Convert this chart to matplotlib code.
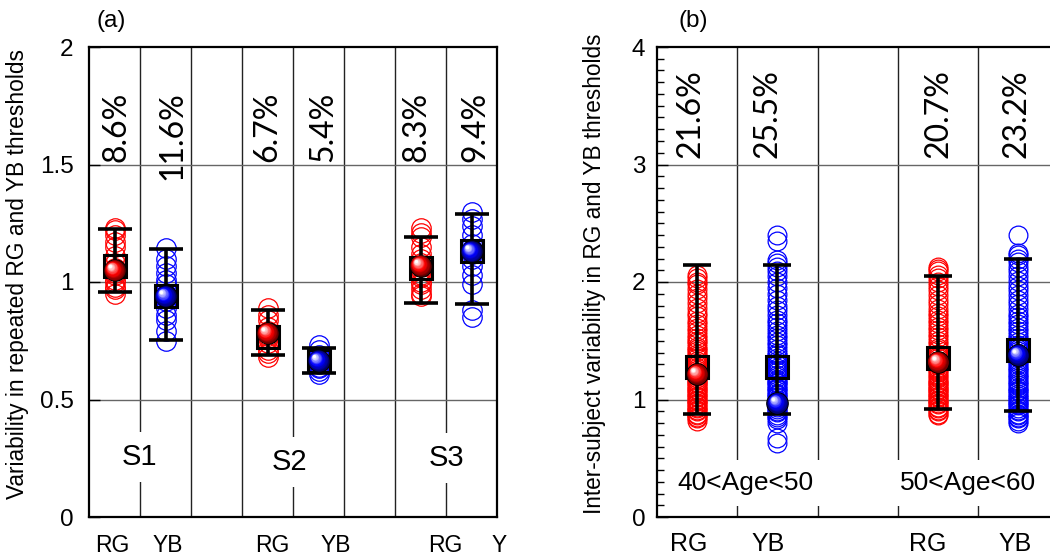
import numpy as np
import matplotlib
matplotlib.use("Agg")
import matplotlib.pyplot as plt
from matplotlib.transforms import offset_copy, blended_transform_factory
from matplotlib.colors import to_rgb

plt.rcParams['font.family'] = ['Liberation Sans', 'DejaVu Sans']

# ---- panel (a): repeated measures, 3 subjects ----
a_pos = [0.5, 1.5, 3.5, 4.5, 6.5, 7.5]
a_kind = ["RG", "YB", "RG", "YB", "RG", "YB"]
a_vals = [
    [0.95, 0.97, 0.98, 1.00, 1.01, 1.03, 1.04, 1.05, 1.06, 1.08, 1.11, 1.15, 1.17, 1.20, 1.22, 1.23],
    [0.75, 0.79, 0.84, 0.86, 0.89, 0.92, 0.93, 0.95, 0.99, 1.01, 1.04, 1.07, 1.10, 1.145],
    [0.68, 0.70, 0.71, 0.74, 0.76, 0.77, 0.79, 0.81, 0.84, 0.86, 0.89],
    [0.61, 0.62, 0.635, 0.64, 0.65, 0.66, 0.665, 0.68, 0.69, 0.71, 0.73],
    [0.94, 0.95, 0.97, 0.99, 1.00, 1.02, 1.03, 1.05, 1.08, 1.10, 1.12, 1.15, 1.19, 1.21, 1.23],
    [0.85, 0.88, 0.99, 1.03, 1.07, 1.10, 1.12, 1.14, 1.16, 1.20, 1.24, 1.27, 1.30],
]
a_mean = [1.07, 0.94, 0.766, 0.664, 1.06, 1.13]
a_ball = [1.05, 0.94, 0.783, 0.665, 1.07, 1.13]
a_lo = [0.957, 0.753, 0.689, 0.613, 0.91, 0.906]
a_hi = [1.226, 1.14, 0.881, 0.719, 1.19, 1.29]
a_pct = ["8.6%", "11.6%", "6.7%", "5.4%", "8.3%", "9.4%"]
a_pct_x = [0.53, 1.63, 3.49, 4.59, 6.43, 7.57]
a_subj = ["S1", "S2", "S3"]
a_subj_x = [0.98, 3.94, 7.0]
a_subj_y = [0.255, 0.235, 0.25]
a_xlab = ["RG", "YB", "RG", "YB", "RG", "Y"]
a_xlab_x = [0.45, 1.55, 3.59, 4.83, 6.98, 8.05]

# ---- panel (b): inter-subject, two age groups ----
b_pos = [0.5, 1.5, 3.5, 4.5]
b_kind = ["RG", "YB", "RG", "YB"]
b_vals = [
    [0.82, 0.84, 0.85, 0.87, 0.88, 0.90, 0.91, 0.93, 0.94, 0.96, 0.97, 0.99, 1.00, 1.02, 1.03,
     1.05, 1.06, 1.08, 1.09, 1.11, 1.12, 1.14, 1.15, 1.17, 1.18, 1.20, 1.21, 1.23, 1.25, 1.27,
     1.29, 1.31, 1.33, 1.35, 1.37, 1.39, 1.41, 1.43, 1.45, 1.48, 1.50, 1.52, 1.55, 1.58, 1.61,
     1.64, 1.67, 1.71, 1.74, 1.78, 1.82, 1.86, 1.90, 1.94, 1.98, 2.00, 2.03, 2.06],
    [0.63, 0.67, 0.80, 0.83, 0.85, 0.87, 0.89, 0.90, 0.92, 0.94, 0.95, 0.97, 0.99, 1.00, 1.02,
     1.04, 1.05, 1.07, 1.09, 1.10, 1.12, 1.14, 1.15, 1.17, 1.19, 1.21, 1.23, 1.25, 1.27, 1.29,
     1.31, 1.33, 1.35, 1.38, 1.40, 1.43, 1.46, 1.49, 1.52, 1.55, 1.58, 1.62, 1.65, 1.68, 1.72,
     1.76, 1.80, 1.85, 1.90, 1.95, 2.00, 2.05, 2.09, 2.13, 2.16, 2.19, 2.35, 2.40],
    [0.87, 0.88, 0.90, 0.91, 0.93, 0.94, 0.96, 0.97, 0.99, 1.00, 1.02, 1.03, 1.05, 1.06, 1.08,
     1.09, 1.11, 1.12, 1.14, 1.15, 1.17, 1.19, 1.21, 1.23, 1.25, 1.27, 1.29, 1.31, 1.33, 1.35,
     1.37, 1.39, 1.42, 1.44, 1.47, 1.50, 1.53, 1.56, 1.59, 1.62, 1.65, 1.68, 1.71, 1.74, 1.77,
     1.81, 1.85, 1.89, 1.93, 1.97, 2.00, 2.03, 2.06, 2.09, 2.11, 2.13],
    [0.80, 0.82, 0.84, 0.85, 0.87, 0.88, 0.90, 0.91, 0.93, 0.95, 0.96, 0.98, 1.00, 1.01, 1.03,
     1.05, 1.07, 1.08, 1.10, 1.12, 1.14, 1.16, 1.18, 1.20, 1.22, 1.24, 1.26, 1.28, 1.30, 1.32,
     1.34, 1.36, 1.38, 1.41, 1.43, 1.46, 1.49, 1.52, 1.55, 1.58, 1.61, 1.64, 1.67, 1.70, 1.73,
     1.77, 1.81, 1.85, 1.89, 1.93, 1.97, 2.01, 2.05, 2.09, 2.13, 2.17, 2.20, 2.23, 2.25, 2.40],
]
b_mean = [1.276, 1.276, 1.35, 1.42]
b_ball = [1.217, 0.97, 1.32, 1.38]
b_lo = [0.877, 0.877, 0.92, 0.90]
b_hi = [2.145, 2.145, 2.05, 2.20]
b_pct = ["21.6%", "25.5%", "20.7%", "23.2%"]
b_pct_x = [0.42, 1.38, 3.50, 4.48]
b_age = ["40<Age<50", "50<Age<60"]
b_age_x = [1.1, 3.87]
b_xlab = ["RG", "YB", "RG", "YB"]
b_xlab_x = [0.40, 1.38, 3.37, 4.46]

COLORS = {"RG": ("#ff0000", "#5a0000"), "YB": ("#0000ff", "#00005a")}

fig = plt.figure(figsize=(10.5, 5.59), dpi=100)
axa = fig.add_axes([89 / 1050, 42 / 559, 408 / 1050, 470 / 559])
axb = fig.add_axes([657 / 1050, 42 / 559, 401.5 / 1050, 470 / 559])


def mix(c1, c2, t):
    c1, c2 = np.array(to_rgb(c1)), np.array(to_rgb(c2))
    return tuple(c1 + (c2 - c1) * t)


def ball(ax, x, y, base, dark, d=15.5):
    steps = 16
    for i in range(steps):
        t = i / (steps - 1)
        size = d * (1 - 0.85 * t)
        off = t * d * 0.2
        if t < 0.45:
            c = mix(dark, base, t / 0.45)
        else:
            c = mix(base, "white", (t - 0.45) / 0.55)
        tr = offset_copy(ax.transData, fig=fig, x=-off, y=off, units="points")
        ax.plot(x, y, "o", ms=size, mfc=c, mec="black" if i == 0 else "none",
                mew=0.8, transform=tr, zorder=6 + i * 0.01)


def draw_groups(ax, pos, kinds, vals, mean, balls, lo, hi, cap, ms):
    for x, k, v, m, b, l, h in zip(pos, kinds, vals, mean, balls, lo, hi):
        col, dark = COLORS[k]
        ax.plot([x] * len(v), v, "o", mfc="none", mec=col, ms=ms, mew=0.9, zorder=3)
        ax.plot(x, m, "s", mfc="none", mec="black", ms=16, mew=2.2, zorder=4)
        ax.errorbar(x, m, yerr=[[m - l], [h - m]], fmt="none", ecolor="black",
                    elinewidth=2.6, capsize=cap, capthick=2.6, zorder=5)
        ball(ax, x, b, col, dark)


def style_axes(ax, ymax, yticks, yticklabels, xmax, vlines, hlines, pad):
    ax.set_xlim(0, xmax)
    ax.set_ylim(0, ymax)
    for s in ax.spines.values():
        s.set_linewidth(1.6)
    ax.set_xticks([])
    ax.set_yticks(yticks)
    ax.set_yticklabels(yticklabels, fontsize=17.5)
    ax.tick_params(axis="y", direction="in", length=8, width=1, pad=pad, right=False)
    for v in vlines:
        ax.axvline(v, color="#222222", lw=1, zorder=1)
    for h in hlines:
        ax.axhline(h, color="#666666", lw=1, zorder=1)


# panel (a)
style_axes(axa, 2, [0, 0.5, 1, 1.5, 2], ["0", "0.5", "1", "1.5", "2"], 8,
           range(1, 8), [0.5, 1, 1.5], 11)
draw_groups(axa, a_pos, a_kind, a_vals, a_mean, a_ball, a_lo, a_hi, 12.5, 14)
for x, t in zip(a_pct_x, a_pct):
    axa.text(x, 1.81, t, rotation=90, ha="center", va="top", fontsize=23,
             family=["Lato", "DejaVu Sans"], zorder=2)
for x, y, t in zip(a_subj_x, a_subj_y, a_subj):
    axa.text(x, y, t, ha="center", va="center", fontsize=21, zorder=2,
             bbox=dict(facecolor="white", edgecolor="none", pad=8))
tra = blended_transform_factory(axa.transData, axa.transAxes)
for x, t in zip(a_xlab_x, a_xlab):
    axa.text(x, -0.06, t, transform=tra, ha="center", va="center", fontsize=16.5, clip_on=False)
axa.text(0.055, 1.055, "(a)", transform=axa.transAxes, ha="center", va="center", fontsize=17.5)
fig.text(18 / 1050, 1 - 274 / 559, "Variability in repeated RG and YB thresholds",
         rotation=90, ha="center", va="center", fontsize=16.4)

# panel (b)
style_axes(axb, 4, [0, 1, 2, 3, 4], ["0", "1", "2", "3", "4"], 5,
           range(1, 5), [1, 2, 3], 8.5)
axb.set_yticks(np.arange(0, 4.01, 0.1), minor=True)
axb.tick_params(axis="y", which="minor", direction="in", length=5, width=1, right=False)
draw_groups(axb, b_pos, b_kind, b_vals, b_mean, b_ball, b_lo, b_hi, 10, 13.5)
for x, t in zip(b_pct_x, b_pct):
    axb.text(x, 3.81, t, rotation=90, ha="center", va="top", fontsize=23,
             family=["Lato", "DejaVu Sans"], zorder=2)
for x, t in zip(b_age_x, b_age):
    axb.text(x, 0.29, t, ha="center", va="center", fontsize=19, zorder=2,
             bbox=dict(facecolor="white", edgecolor="none", pad=8))
trb = blended_transform_factory(axb.transData, axb.transAxes)
for x, t in zip(b_xlab_x, b_xlab):
    axb.text(x, -0.057, t, transform=trb, ha="center", va="center", fontsize=18, clip_on=False)
axb.text(0.09, 1.055, "(b)", transform=axb.transAxes, ha="center", va="center", fontsize=17.5)
fig.text(595 / 1050, 1 - 274 / 559, "Inter-subject variability in RG and YB thresholds",
         rotation=90, ha="center", va="center", fontsize=16.3)

fig.savefig("out.png", dpi=100)
